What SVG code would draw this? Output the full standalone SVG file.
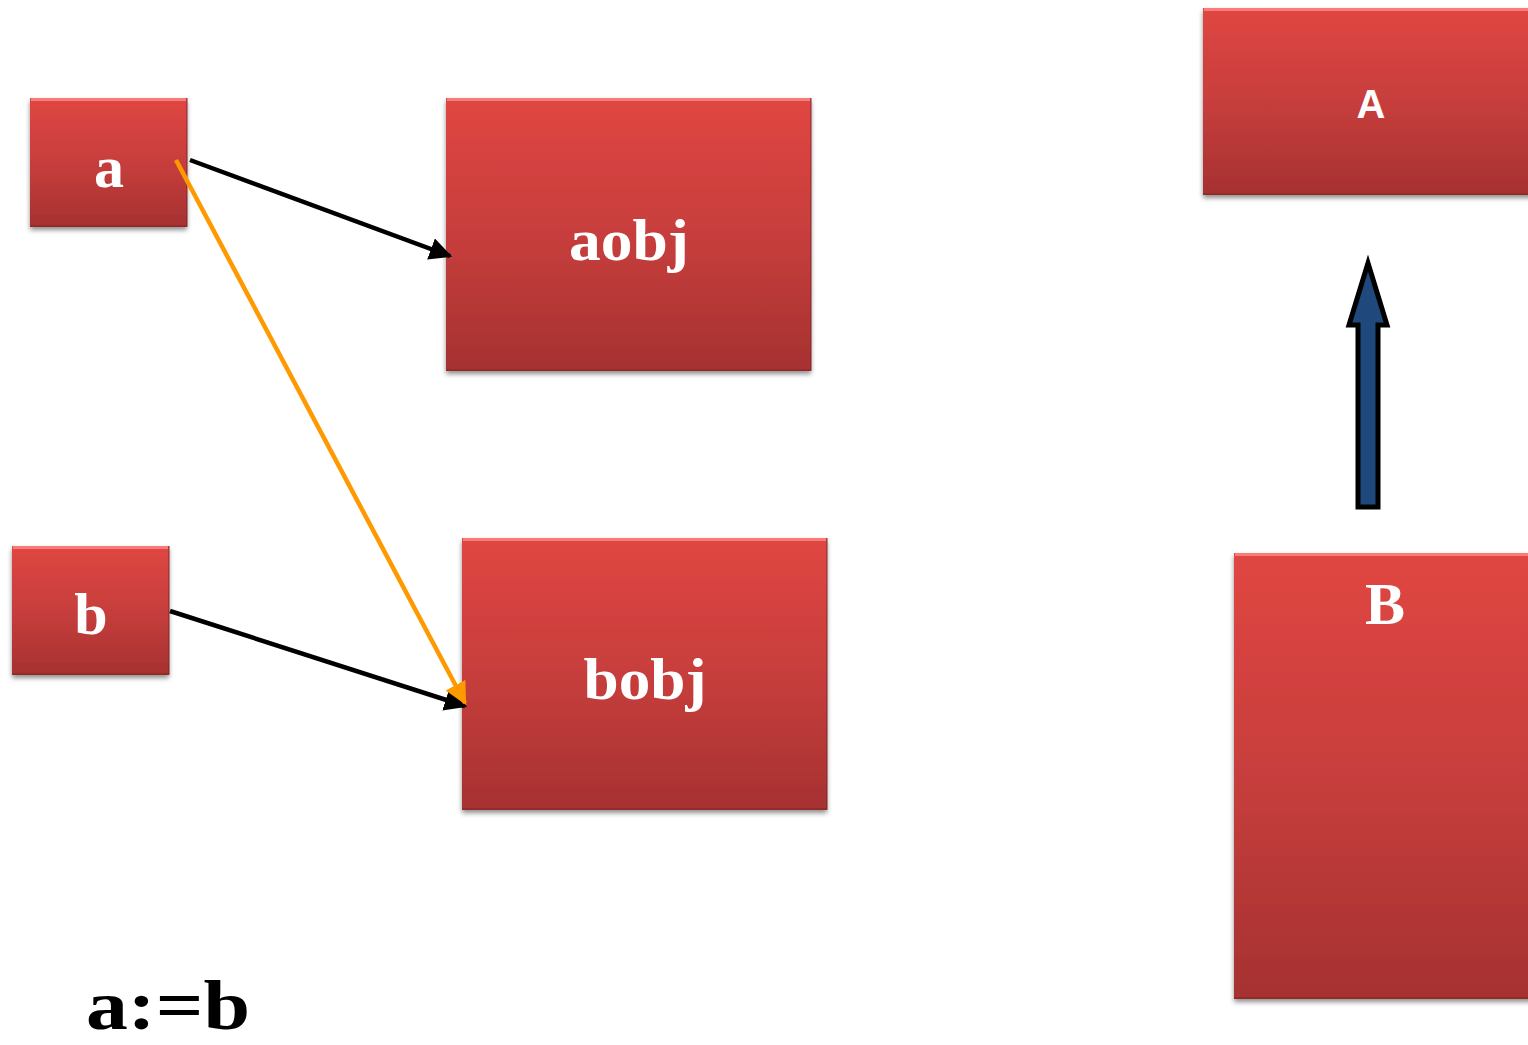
<svg xmlns="http://www.w3.org/2000/svg" width="1528" height="1045" viewBox="0 0 1528 1045">
  <defs>
    <linearGradient id="redFill" x1="0" y1="0" x2="0" y2="1">
      <stop offset="0" stop-color="#e04642"/>
      <stop offset="0.5" stop-color="#c73e3c"/>
      <stop offset="1" stop-color="#a63131"/>
    </linearGradient>
    <filter id="shadow" x="-10%" y="-10%" width="120%" height="125%">
      <feGaussianBlur in="SourceAlpha" stdDeviation="2.5"/>
      <feOffset dx="0" dy="3" result="b"/>
      <feComponentTransfer><feFuncA type="linear" slope="0.45"/></feComponentTransfer>
      <feMerge><feMergeNode/><feMergeNode in="SourceGraphic"/></feMerge>
    </filter>
    <marker id="headBlack" viewBox="0 0 10 10" refX="9" refY="5" markerWidth="5" markerHeight="5" orient="auto" markerUnits="strokeWidth">
      <path d="M0,0 L10,5 L0,10 z" fill="#000"/>
    </marker>
    <marker id="headOrange" viewBox="0 0 10 10" refX="9" refY="5" markerWidth="5" markerHeight="5" orient="auto" markerUnits="strokeWidth">
      <path d="M0,0 L10,5 L0,10 z" fill="#ff9900"/>
    </marker>
  </defs>
  <style>
    .box { fill: url(#redFill); filter: url(#shadow); }
    .hi { fill: none; stroke: #ff8a86; stroke-width: 3; opacity: 0.8; }
    .edge { fill: none; stroke: #7e2222; stroke-width: 1.5; opacity: 0.6; }
    .lbl { fill: #fff; font-family: "Liberation Serif", serif; font-weight: bold; text-anchor: middle; }
    .lblSans { fill: #fff; font-family: "Liberation Sans", sans-serif; font-weight: bold; text-anchor: middle; }
    .conn { fill: none; stroke-width: 4.5; }
  </style>
  <rect width="1528" height="1045" fill="#fff"/>

  <g id="node-a">
    <rect class="box" x="30" y="98" width="157" height="129"/>
    <path class="hi" d="M31,99.5 H186"/>
    <path class="edge" d="M30,226 H187 V98"/>
    <text class="lbl" x="109" y="187" font-size="60">a</text>
  </g>
  <g id="node-aobj">
    <rect class="box" x="446" y="98" width="365" height="273"/>
    <path class="hi" d="M447,99.5 H810"/>
    <path class="edge" d="M446,370 H811 V98"/>
    <text class="lbl" x="629" y="260" font-size="60" textLength="120" lengthAdjust="spacingAndGlyphs">aobj</text>
  </g>
  <g id="node-b">
    <rect class="box" x="12" y="546" width="157" height="129"/>
    <path class="hi" d="M13,547.5 H168"/>
    <path class="edge" d="M12,674 H169 V546"/>
    <text class="lbl" x="91" y="634" font-size="60">b</text>
  </g>
  <g id="node-bobj">
    <rect class="box" x="462" y="538" width="365" height="272"/>
    <path class="hi" d="M463,539.5 H826"/>
    <path class="edge" d="M462,809 H827 V538"/>
    <text class="lbl" x="645" y="699" font-size="60" textLength="123" lengthAdjust="spacingAndGlyphs">bobj</text>
  </g>
  <g id="node-A">
    <rect class="box" x="1203" y="8" width="340" height="187"/>
    <path class="hi" d="M1204,9.5 H1528"/>
    <path class="edge" d="M1203,194 H1528"/>
    <text class="lblSans" x="1371" y="118" font-size="40">A</text>
  </g>
  <g id="node-B">
    <rect class="box" x="1234" y="553" width="310" height="446"/>
    <path class="hi" d="M1235,554.5 H1528"/>
    <path class="edge" d="M1234,998 H1528"/>
    <text class="lbl" x="1385" y="624" font-size="60">B</text>
  </g>

  <g id="connectors">
    <line class="conn" stroke="#000" x1="190" y1="160" x2="450" y2="256" marker-end="url(#headBlack)"/>
    <line class="conn" stroke="#000" x1="170" y1="611" x2="465" y2="706" marker-end="url(#headBlack)"/>
    <line class="conn" stroke="#ff9900" x1="176" y1="160" x2="465" y2="703" marker-end="url(#headOrange)"/>
    <path d="M1358,507 V325 H1349 L1368,263 L1387,325 H1378 V507 Z" fill="#1f497d" stroke="#000" stroke-width="5" stroke-linejoin="miter"/>
  </g>

  <text x="86" y="1029" font-family="Liberation Serif, serif" font-weight="bold" font-size="70" fill="#000" textLength="164" lengthAdjust="spacingAndGlyphs">a:=b</text>
</svg>
